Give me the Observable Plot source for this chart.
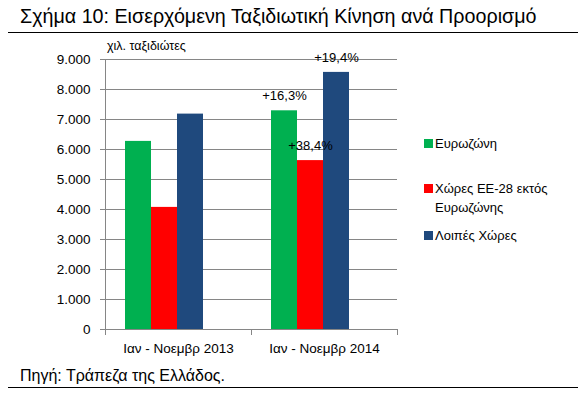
<!DOCTYPE html>
<html>
<head>
<meta charset="utf-8">
<script src="https://cdn.jsdelivr.net/npm/d3@7"></script>
<script src="https://cdn.jsdelivr.net/npm/@observablehq/plot@0.6"></script>
<style>
  html, body { margin: 0; padding: 0; background: #fff; }
  #root { position: relative; width: 584px; height: 394px; overflow: hidden; background: #fff; font-family: "Liberation Sans", Arial, sans-serif; color: #000; }
  #title { position: absolute; left: 20px; top: 5px; font-size: 19.7px; white-space: nowrap; }
  #rule-top { position: absolute; left: 8px; width: 570px; top: 32px; height: 0; border-top: 1.5px solid #000; }
  #source { position: absolute; left: 20px; top: 367px; font-size: 16px; white-space: nowrap; }
  #rule-bottom { position: absolute; left: 8px; width: 570px; top: 387px; height: 0; border-top: 1.5px solid #000; }
  #unit { position: absolute; left: 107px; top: 39px; font-size: 12.5px; white-space: nowrap; }
  #chart { position: absolute; left: 0; top: 40px; }
  #legend { position: absolute; left: 424px; top: 0; font-size: 13px; }
  .li { position: absolute; left: 0; white-space: nowrap; }
  .sw { position: absolute; left: 0; width: 9px; height: 9px; }
  .lt { position: absolute; left: 11px; line-height: 19px; }
</style>
</head>
<body>
<div id="root">
  <div id="title"></div>
  <div id="rule-top"></div>
  <div id="chart"></div>
  <div id="unit"></div>
  <div id="legend"></div>
  <div id="source"></div>
  <div id="rule-bottom"></div>
</div>
<script>
const titleText = "Σχήμα 10: Εισερχόμενη Ταξιδιωτική Κίνηση ανά Προορισμό";
const unitText = "χιλ. ταξιδιώτες";
const sourceText = "Πηγή: Τράπεζα της Ελλάδος.";
const groups = ["Ιαν - Νοεμβρ 2013", "Ιαν - Νοεμβρ 2014"];
const series = ["Ευρωζώνη", "Χώρες ΕΕ-28 εκτός Ευρωζώνης", "Λοιπές Χώρες"];
const legendLines = [["Ευρωζώνη"], ["Χώρες ΕΕ-28 εκτός", "Ευρωζώνης"], ["Λοιπές Χώρες"]];
const colors = ["#00b050", "#ff0000", "#1f497d"];
const values2013 = [6270, 4070, 7180];
const values2014 = [7290, 5630, 8570];
const changeLabels = ["+16,3%", "+38,4%", "+19,4%"];
const yTicks = [0, 1000, 2000, 3000, 4000, 5000, 6000, 7000, 8000, 9000];

document.getElementById("title").textContent = titleText;
document.getElementById("unit").textContent = unitText;
document.getElementById("source").textContent = sourceText;

const rows = [];
series.forEach((s, i) => rows.push({group: groups[0], series: s, value: values2013[i]}));
series.forEach((s, i) => rows.push({group: groups[1], series: s, value: values2014[i], label: changeLabels[i]}));
const labelRows = rows.filter(d => d.label);

const fmt = d => d === 0 ? "0" : d3.format(",")(d).replace(/,/g, ".");
const axisGray = "#868686";

const chart = Plot.plot({
  width: 584,
  height: 320,
  marginLeft: 104,
  marginRight: 187,
  marginTop: 19,
  marginBottom: 31,
  style: {fontFamily: "Liberation Sans, Arial, sans-serif", fontSize: "13px", color: "#000", background: "transparent", overflow: "visible"},
  fx: {domain: groups, padding: 0, label: null, axis: null},
  x: {domain: series, paddingInner: 0, paddingOuter: 1.24, align: 0.3, axis: null},
  y: {domain: [0, 9000], axis: null},
  color: {domain: series, range: colors},
  marks: [
    Plot.gridY(yTicks, {stroke: axisGray, strokeOpacity: 1}),
    Plot.frame({anchor: "left", facetAnchor: "left", stroke: axisGray}),
    Plot.frame({anchor: "bottom", stroke: axisGray}),
    Plot.frame({anchor: "left", stroke: axisGray, insetTop: 270, insetBottom: -5}),
    Plot.frame({anchor: "right", stroke: axisGray, insetTop: 270, insetBottom: -5}),
    Plot.axisY(yTicks, {tickFormat: fmt, tickSize: 5, tickPadding: 10, stroke: axisGray, label: null, fontSize: 13.5}),
    Plot.axisFx({anchor: "bottom", tickSize: 0, tickPadding: 14, label: null, fontSize: 13.5}),
    Plot.barY(rows, {fx: "group", x: "series", y: "value", fill: "series"}),
    Plot.text(labelRows, {fx: "group", x: "series", y: "value", text: "label", dy: -15, fontSize: 13, fill: "#000"})
  ]
});
document.getElementById("chart").appendChild(chart);

const legend = document.getElementById("legend");
const legendY = [143, 188, 235];
legendLines.forEach((lines, i) => {
  const item = document.createElement("div");
  item.className = "li";
  item.style.top = (legendY[i] - 9.5) + "px";
  const sw = document.createElement("div");
  sw.className = "sw";
  sw.style.background = colors[i];
  sw.style.top = "5px";
  item.appendChild(sw);
  const t = document.createElement("div");
  t.className = "lt";
  t.innerHTML = lines.join("<br>");
  item.appendChild(t);
  legend.appendChild(item);
});
</script>
</body>
</html>
